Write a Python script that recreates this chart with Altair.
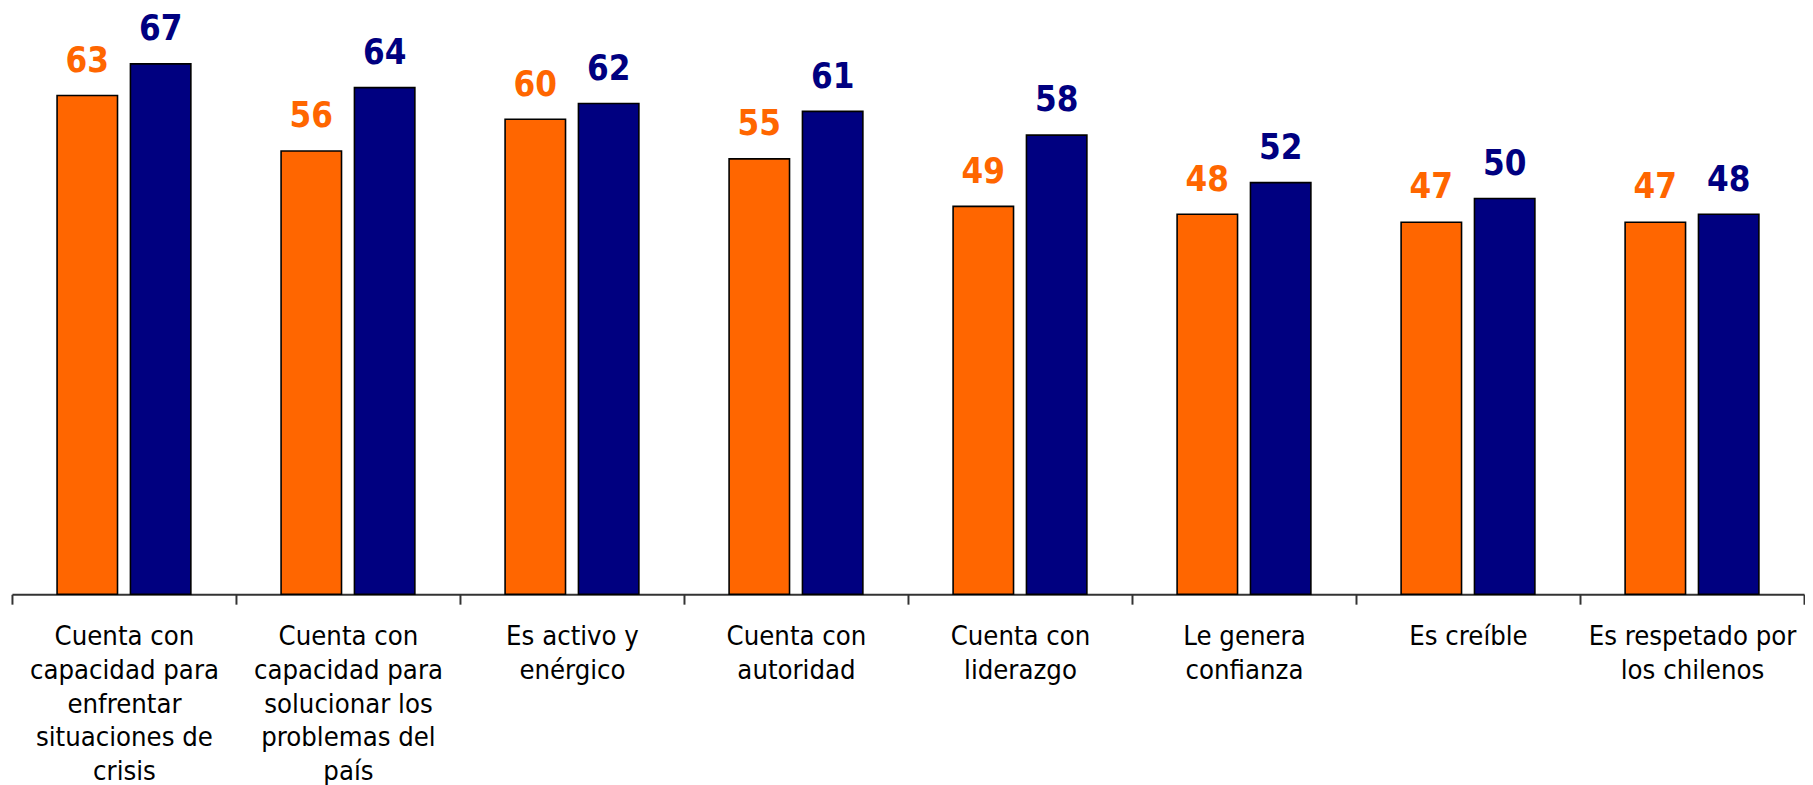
import altair as alt
import pandas as pd

categories = [
    "Cuenta con|capacidad para|enfrentar|situaciones de|crisis",
    "Cuenta con|capacidad para|solucionar los|problemas del|país",
    "Es activo y|enérgico",
    "Cuenta con|autoridad",
    "Cuenta con|liderazgo",
    "Le genera|confianza",
    "Es creíble",
    "Es respetado por|los chilenos",
]
series = ["A", "B"]
values_a = [63, 56, 60, 55, 49, 48, 47, 47]
values_b = [67, 64, 62, 61, 58, 52, 50, 48]
colors = ["#FF6600", "#000080"]

rows = []
for c, a, b in zip(categories, values_a, values_b):
    rows.append({"cat": c, "serie": series[0], "val": a})
    rows.append({"cat": c, "serie": series[1], "val": b})
df = pd.DataFrame(rows)

FONT = "DejaVu Sans Condensed"

x_enc = alt.X(
    "cat:N",
    sort=categories,
    scale=alt.Scale(paddingInner=0, paddingOuter=0),
    axis=alt.Axis(
        title=None,
        labelAngle=0,
        labelExpr="split(datum.label, '|')",
        labelFont=FONT,
        labelFontSize=27.5,
        labelColor="#000000",
        labelLineHeight=34,
        labelPadding=19,
        labelBaseline="top",
        labelLimit=0,
        tickBand="extent",
        tickSize=10,
        tickColor="#333333",
        tickWidth=2,
        domainColor="#333333",
        domainWidth=2,
        grid=False,
    ),
)
xo = alt.XOffset("serie:N", sort=series,
                 scale=alt.Scale(paddingInner=0.176, paddingOuter=0.615))
y_enc = alt.Y("val:Q", scale=alt.Scale(domain=[0, 73.5], nice=False, zero=True), axis=None)
color_enc = alt.Color("serie:N", sort=series,
                      scale=alt.Scale(domain=series, range=colors), legend=None)

bars = alt.Chart(df).mark_bar(stroke="#000000", strokeWidth=1.6).encode(
    x=x_enc, xOffset=xo, y=y_enc, color=color_enc
)
labels = alt.Chart(df).mark_text(
    baseline="alphabetic", dy=-24, font=FONT, fontSize=35, fontWeight="bold"
).encode(
    x=alt.X("cat:N", sort=categories), xOffset=xo, y=y_enc,
    text=alt.Text("val:Q"), color=color_enc
)

chart = (bars + labels).properties(
    width=1808, height=587,
    background="#ffffff",
    padding={"left": 3, "top": 0, "right": 0, "bottom": 0},
).configure_view(stroke=None)

chart.save("out.html", embed_options={"renderer": "svg", "actions": False})
